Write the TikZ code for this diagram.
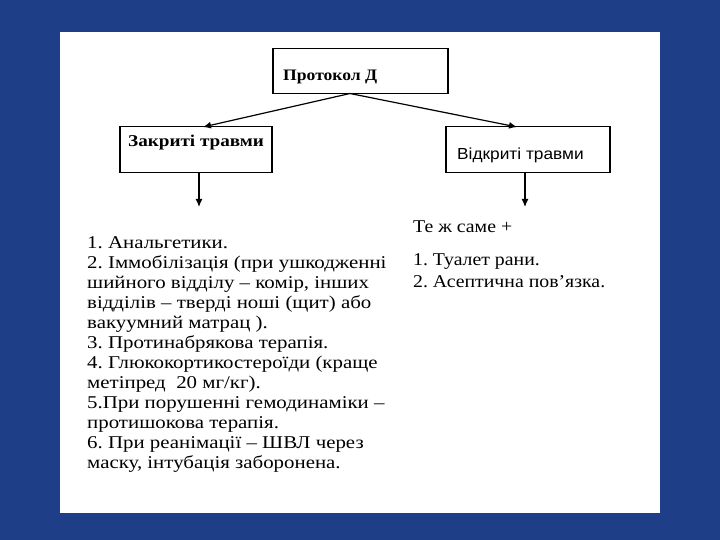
\documentclass[tikz,border=0pt]{standalone}
\usepackage{fontspec}
\setmainfont[FakeStretch=1.1]{Liberation Serif}
\newfontfamily\listfont[FakeStretch=1.16]{Liberation Serif}
\newfontfamily\boxsans[FakeStretch=1.08]{Liberation Sans}
\usetikzlibrary{arrows.meta}

\definecolor{slideblue}{RGB}{30,63,136}

\tikzset{
    box/.style={draw, line width=1.2pt, inner sep=0pt},
    link/.style={draw, line width=1.2pt, -{Latex[length=8pt,width=7pt]}},
    boxtext/.style={right, inner sep=0pt, font=\fontsize{16}{18}\selectfont\bfseries},
    listtext/.style={align=left, inner sep=0pt, font=\fontsize{18}{22}\selectfont\frenchspacing}
}

\begin{document}
\begin{tikzpicture}[x=1pt,y=-1pt]
        % slide
        \fill[slideblue] (0,0) rectangle (720,540);
        \fill[white] (60,32) rectangle (660,513);

        % boxes
        \node[box, minimum width=175pt, minimum height=45pt] (protocol) at (360.5,71) {};
        \node[box, minimum width=152pt, minimum height=46pt] (closed) at (196,149.5) {};
        \node[box, minimum width=164pt, minimum height=46pt] (open) at (528,149.5) {};

        \draw (283,77) node[boxtext] (protocolText) {Протокол Д};
        \draw (128,143) node[boxtext, font=\fontsize{16.5}{18}\selectfont\listfont\bfseries] (closedText) {Закриті травми};
        \draw (457,155) node[boxtext, font=\fontsize{16}{18}\selectfont\boxsans] (openText) {Відкриті травми};

        % arrows
        \coordinate (split) at (350,93.5);
        \coordinate (closedEnd) at (199,207);
        \coordinate (openEnd) at (525,207);
        \draw[link] (split) -- (203,127);
        \draw[link] (split) -- (517,127);
        \draw[link] (closedEnd |- closed.south) -- (closedEnd);
        \draw[link] (openEnd |- open.south) -- (openEnd);

        % lists
        \node[listtext, anchor=north west, font=\fontsize{18}{20}\selectfont\listfont\frenchspacing] (closedList) at (87,236) {1. Анальгетики.\\
            2. Іммобілізація (при ушкодженні\\
            шийного відділу – комір, інших\\
            відділів – тверді ноші (щит) або\\
            вакуумний матрац ).\\
            3. Протинабрякова терапія.\\
            4. Глюкокортикостероїди (краще\\
            метіпред\ \ 20 мг/кг).\\
            5.При порушенні гемодинаміки –\\
            протишокова терапія.\\
            6. При реанімації – ШВЛ через\\
            маску, інтубація заборонена.};
        \node[listtext, anchor=north west] (openSame) at (413,221) {Те ж саме +};
        \node[listtext, anchor=north west] (openList) at (413,253) {1. Туалет рани.\\
            2. Асептична пов’язка.};
    \end{tikzpicture}
\end{document}
